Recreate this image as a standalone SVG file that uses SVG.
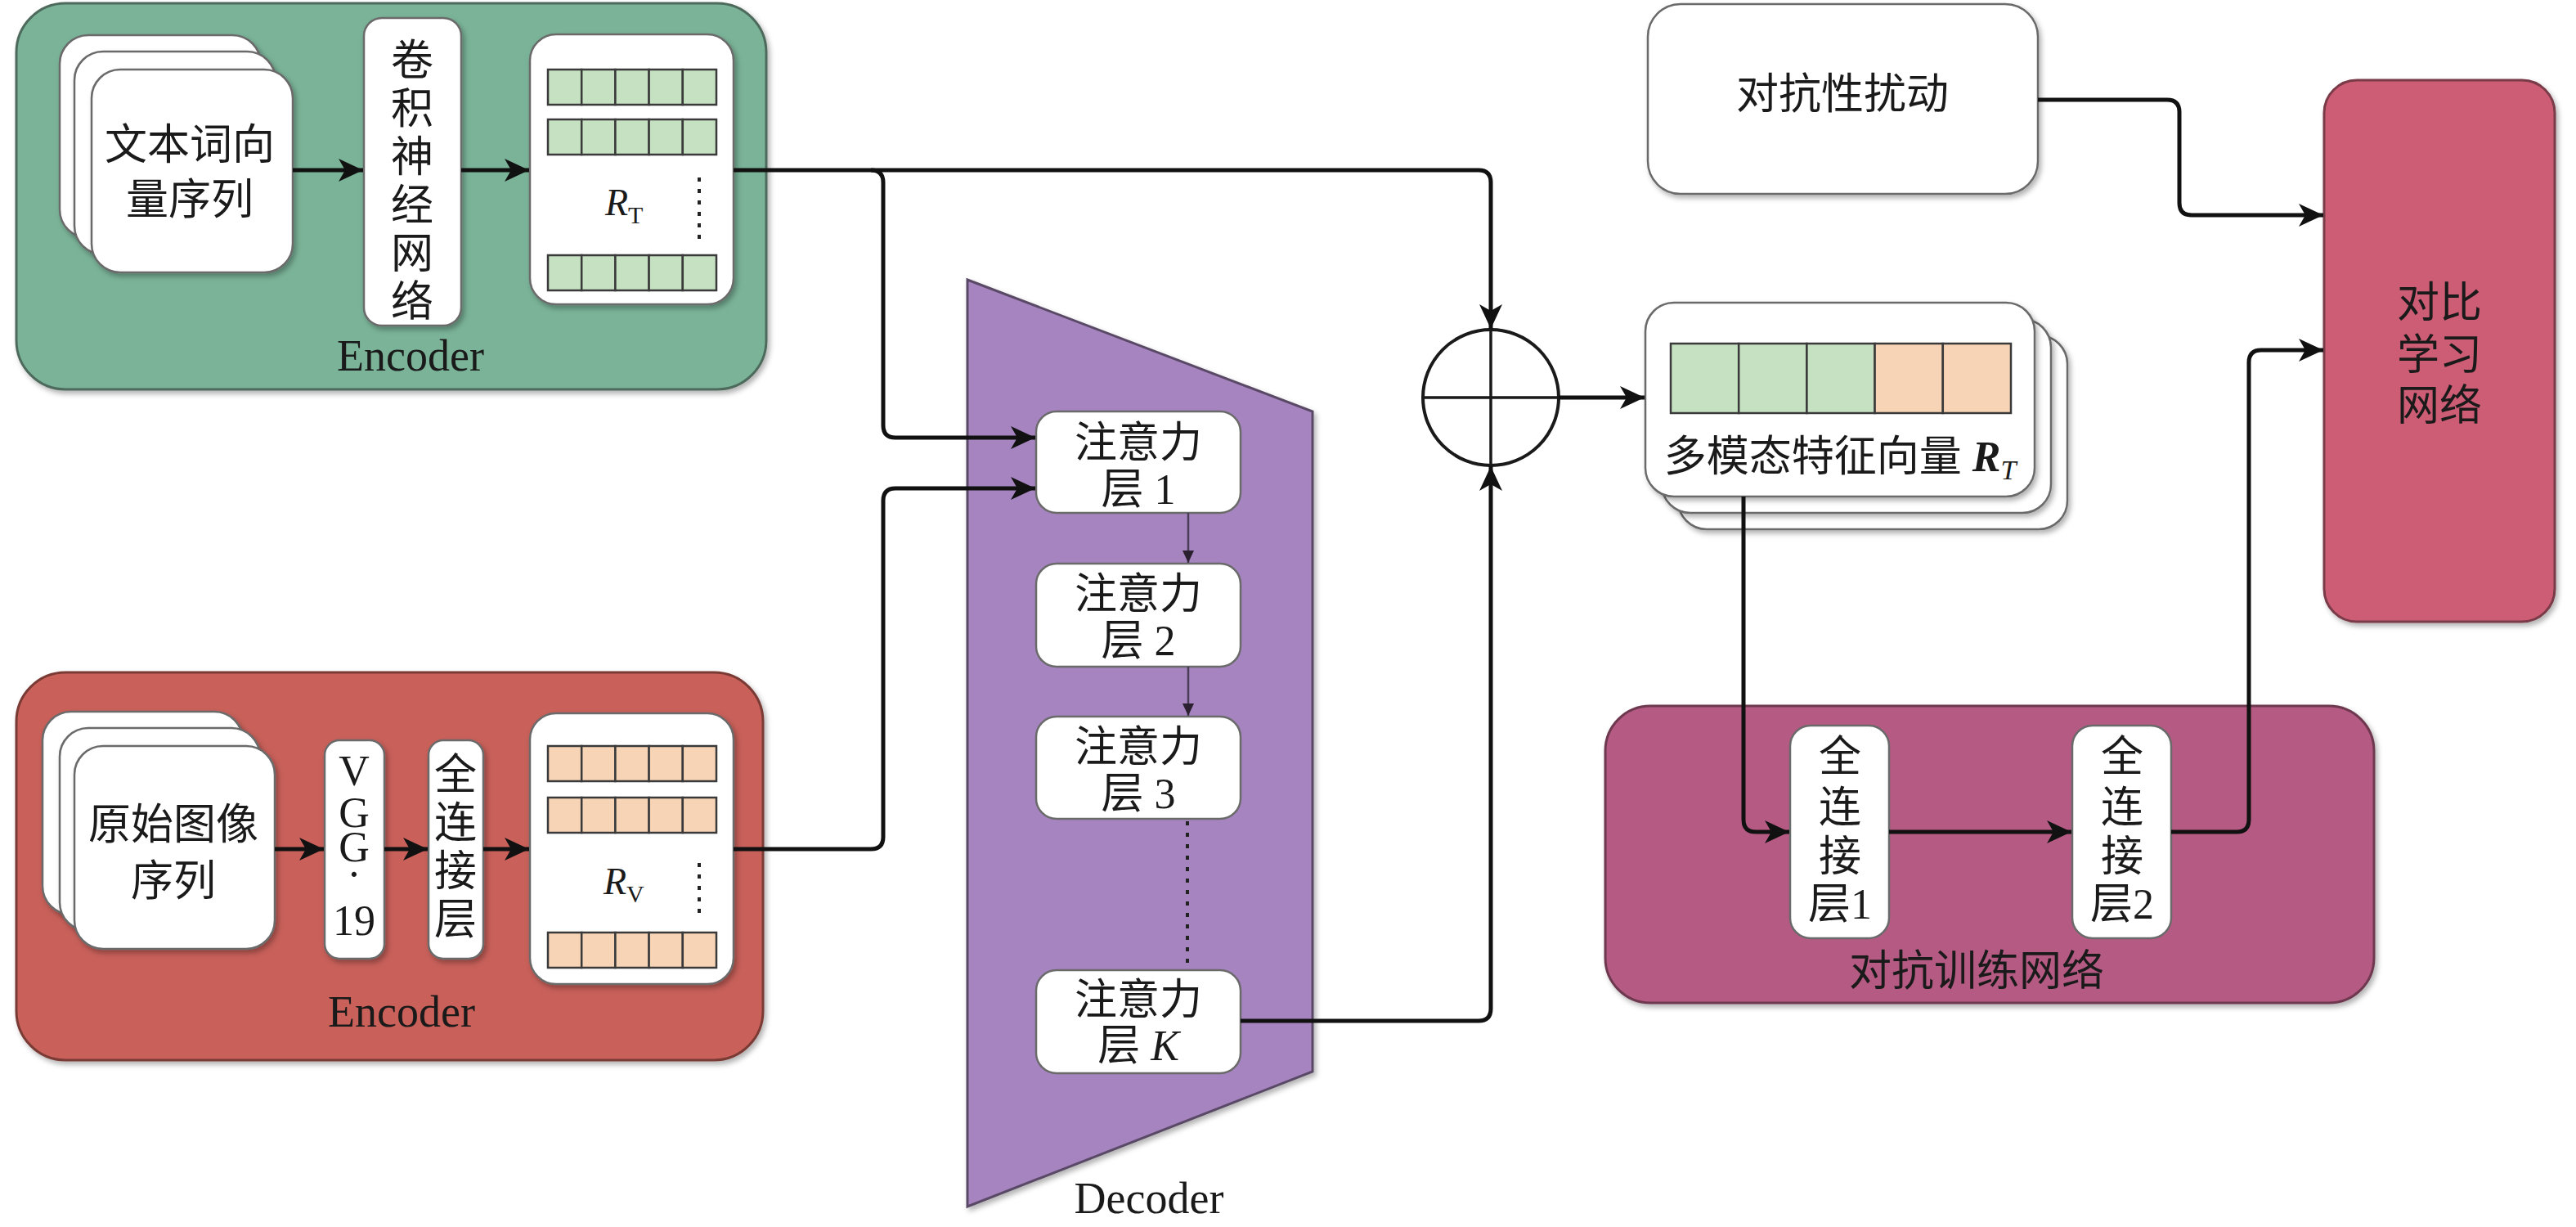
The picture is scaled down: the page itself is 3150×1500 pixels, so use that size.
<svg xmlns="http://www.w3.org/2000/svg" width="3150" height="1500" viewBox="0 0 3150 1500">
<defs>
<filter id="sh" x="-10%" y="-10%" width="125%" height="125%">
<feDropShadow dx="3" dy="4" stdDeviation="3" flood-color="#000" flood-opacity="0.3"/>
</filter>
<marker id="ah" markerUnits="userSpaceOnUse" markerWidth="32" markerHeight="28" refX="30" refY="14" orient="auto">
<path d="M0,0 L30,14 L0,28 L8,14 Z" fill="#111"/>
</marker>
<marker id="ahs" markerUnits="userSpaceOnUse" markerWidth="16" markerHeight="14" refX="15" refY="7" orient="auto">
<path d="M0,0 L15,7 L0,14 Z" fill="#2a2030"/>
</marker>
<style>
.t{font-family:"Liberation Serif","Noto Sans CJK SC",serif;font-size:52px;fill:#1a1a1a;text-anchor:middle}
.lat{font-family:"Liberation Serif",serif;fill:#1a1a1a}
.card{fill:#fff;stroke:#6a6a6a;stroke-width:2.5}
.wbox{fill:#fff;stroke:#6a6a6a;stroke-width:2.5}
.cg{fill:#c6e1c2;stroke:#3a3a3a;stroke-width:2.5}
.co{fill:#f8d4b6;stroke:#3a3a3a;stroke-width:2.5}
.ln{fill:none;stroke:#111;stroke-width:5;stroke-linejoin:round}
.thin{fill:none;stroke:#4a3d58;stroke-width:2.5}
.dots{fill:none;stroke:#222;stroke-width:4;stroke-dasharray:5 9}
</style>
</defs>

<g id="encoder-text">
<rect x="20" y="4" width="917" height="472" rx="60" fill="#7ab398" stroke="#4d6b5c" stroke-width="3" filter="url(#sh)"/>
<g id="text-seq">
<rect class="card" x="73" y="43" width="246" height="248" rx="35" filter="url(#sh)"/>
<rect class="card" x="91" y="63" width="246" height="248" rx="35" filter="url(#sh)"/>
<rect class="card" x="112" y="85" width="246" height="248" rx="35" filter="url(#sh)"/>
<text class="t" x="232" y="195">文本词向</text>
<text class="t" x="232" y="262">量序列</text>
</g>
<g id="cnn">
<rect class="wbox" x="445" y="22" width="119" height="376" rx="22" filter="url(#sh)"/>
<text class="t" x="504" y="92">卷</text>
<text class="t" x="504" y="151">积</text>
<text class="t" x="504" y="210">神</text>
<text class="t" x="504" y="269">经</text>
<text class="t" x="504" y="328">网</text>
<text class="t" x="504" y="387">络</text>
</g>
<g id="rt">
<rect class="wbox" x="648" y="42" width="249" height="330" rx="32" filter="url(#sh)"/>
<rect class="cg" x="670" y="85" width="41.2" height="43"/><rect class="cg" x="711.2" y="85" width="41.2" height="43"/><rect class="cg" x="752.4" y="85" width="41.2" height="43"/><rect class="cg" x="793.6" y="85" width="41.2" height="43"/><rect class="cg" x="834.8" y="85" width="41.2" height="43"/>
<rect class="cg" x="670" y="146" width="41.2" height="43"/><rect class="cg" x="711.2" y="146" width="41.2" height="43"/><rect class="cg" x="752.4" y="146" width="41.2" height="43"/><rect class="cg" x="793.6" y="146" width="41.2" height="43"/><rect class="cg" x="834.8" y="146" width="41.2" height="43"/>
<rect class="cg" x="670" y="312" width="41.2" height="43"/><rect class="cg" x="711.2" y="312" width="41.2" height="43"/><rect class="cg" x="752.4" y="312" width="41.2" height="43"/><rect class="cg" x="793.6" y="312" width="41.2" height="43"/><rect class="cg" x="834.8" y="312" width="41.2" height="43"/>
<text class="lat" x="740" y="263" font-size="46"><tspan font-style="italic">R</tspan><tspan font-size="30" dy="10">T</tspan></text>
<path class="dots" d="M855,217 V294"/>
</g>
<text class="lat" x="502" y="453" font-size="54" text-anchor="middle">Encoder</text>
</g>

<g id="encoder-image">
<rect x="20" y="822" width="913" height="474" rx="60" fill="#c9615a" stroke="#7a3a36" stroke-width="3" filter="url(#sh)"/>
<g id="img-seq">
<rect class="card" x="52" y="870" width="245" height="248" rx="35" filter="url(#sh)"/>
<rect class="card" x="73" y="890" width="245" height="248" rx="35" filter="url(#sh)"/>
<rect class="card" x="91" y="912" width="245" height="248" rx="35" filter="url(#sh)"/>
<text class="t" x="212" y="1026">原始图像</text>
<text class="t" x="212" y="1095">序列</text>
</g>
<g id="vgg">
<rect class="wbox" x="397" y="905" width="73" height="267" rx="18" filter="url(#sh)"/>
<text class="lat" font-size="52" text-anchor="middle"><tspan x="433" y="960">V</tspan><tspan x="433" y="1011">G</tspan><tspan x="433" y="1053">G</tspan><tspan x="433" y="1086">·</tspan><tspan x="433" y="1143">19</tspan></text>
</g>
<g id="fc-img">
<rect class="wbox" x="524" y="905" width="67" height="267" rx="18" filter="url(#sh)"/>
<text class="t" x="557" y="965">全</text>
<text class="t" x="557" y="1024">连</text>
<text class="t" x="557" y="1083">接</text>
<text class="t" x="557" y="1142">层</text>
</g>
<g id="rv">
<rect class="wbox" x="648" y="872" width="249" height="331" rx="32" filter="url(#sh)"/>
<rect class="co" x="670" y="912" width="41.2" height="43"/><rect class="co" x="711.2" y="912" width="41.2" height="43"/><rect class="co" x="752.4" y="912" width="41.2" height="43"/><rect class="co" x="793.6" y="912" width="41.2" height="43"/><rect class="co" x="834.8" y="912" width="41.2" height="43"/>
<rect class="co" x="670" y="975" width="41.2" height="43"/><rect class="co" x="711.2" y="975" width="41.2" height="43"/><rect class="co" x="752.4" y="975" width="41.2" height="43"/><rect class="co" x="793.6" y="975" width="41.2" height="43"/><rect class="co" x="834.8" y="975" width="41.2" height="43"/>
<rect class="co" x="670" y="1140" width="41.2" height="43"/><rect class="co" x="711.2" y="1140" width="41.2" height="43"/><rect class="co" x="752.4" y="1140" width="41.2" height="43"/><rect class="co" x="793.6" y="1140" width="41.2" height="43"/><rect class="co" x="834.8" y="1140" width="41.2" height="43"/>
<text class="lat" x="738" y="1093" font-size="46"><tspan font-style="italic">R</tspan><tspan font-size="30" dy="10">V</tspan></text>
<path class="dots" d="M855,1055 V1120"/>
</g>
<text class="lat" x="491" y="1255" font-size="54" text-anchor="middle">Encoder</text>
</g>

<g id="decoder">
<polygon points="1183,342 1605,503 1605,1310 1183,1475" fill="#a684bf" stroke="#5a4a66" stroke-width="3" filter="url(#sh)"/>
<g id="att1">
<rect class="wbox" x="1267" y="503" width="250" height="124" rx="25"/>
<text class="t" x="1392" y="559">注意力</text>
<text class="t" x="1392" y="616">层 1</text>
</g>
<g id="att2">
<rect class="wbox" x="1267" y="689" width="250" height="126" rx="25"/>
<text class="t" x="1392" y="744">注意力</text>
<text class="t" x="1392" y="801">层 2</text>
</g>
<g id="att3">
<rect class="wbox" x="1267" y="876" width="250" height="125" rx="25"/>
<text class="t" x="1392" y="931">注意力</text>
<text class="t" x="1392" y="988">层 3</text>
</g>
<g id="attk">
<rect class="wbox" x="1267" y="1186" width="250" height="126" rx="25"/>
<text class="t" x="1392" y="1240">注意力</text>
<text class="t" x="1392" y="1296">层 <tspan font-style="italic">K</tspan></text>
</g>
<text class="lat" x="1405" y="1483" font-size="54" text-anchor="middle">Decoder</text>
</g>

<g id="sum">
<circle cx="1823" cy="486" r="83" fill="#fff" stroke="#1a1a1a" stroke-width="4"/>
<path d="M1740,486 H1906 M1823,403 V569" stroke="#1a1a1a" stroke-width="3.5" fill="none"/>
</g>

<g id="multimodal">
<rect class="card" x="2052" y="410" width="476" height="237" rx="35" filter="url(#sh)"/>
<rect class="card" x="2032" y="390" width="476" height="237" rx="35" filter="url(#sh)"/>
<rect class="card" x="2012" y="370" width="476" height="237" rx="35" filter="url(#sh)"/>
<rect class="cg" x="2043" y="420" width="83.2" height="85"/><rect class="cg" x="2126.2" y="420" width="83.2" height="85"/><rect class="cg" x="2209.4" y="420" width="83.2" height="85"/>
<rect class="co" x="2292.6" y="420" width="83.2" height="85"/><rect class="co" x="2375.8" y="420" width="83.2" height="85"/>
<text class="t" x="2250" y="576" font-size="54">多模态特征向量 <tspan font-weight="bold" font-style="italic">R</tspan><tspan font-style="italic" font-size="34" dy="10">T</tspan></text>
</g>

<g id="perturb">
<rect class="wbox" x="2015" y="5" width="477" height="232" rx="40" filter="url(#sh)"/>
<text class="t" x="2253" y="133" font-size="54">对抗性扰动</text>
</g>

<g id="contrast">
<rect x="2842" y="98" width="282" height="662" rx="40" fill="#cd5c74" stroke="#7a3a48" stroke-width="3" filter="url(#sh)"/>
<text class="t" x="2983" y="388">对比</text>
<text class="t" x="2983" y="452">学习</text>
<text class="t" x="2983" y="514">网络</text>
</g>

<g id="adversarial">
<rect x="1963" y="863" width="940" height="363" rx="55" fill="#b45a83" stroke="#6e3850" stroke-width="3" filter="url(#sh)"/>
<g id="fc1">
<rect class="wbox" x="2189" y="887" width="121" height="260" rx="25"/>
<text class="t" x="2250" y="943">全</text>
<text class="t" x="2250" y="1005">连</text>
<text class="t" x="2250" y="1065">接</text>
<text class="t" x="2250" y="1123">层1</text>
</g>
<g id="fc2">
<rect class="wbox" x="2534" y="887" width="121" height="260" rx="25"/>
<text class="t" x="2595" y="943">全</text>
<text class="t" x="2595" y="1005">连</text>
<text class="t" x="2595" y="1065">接</text>
<text class="t" x="2595" y="1123">层2</text>
</g>
<text class="t" x="2417" y="1205" font-size="54">对抗训练网络</text>
</g>

<g id="connectors">
<path class="ln" d="M358,208 H444" marker-end="url(#ah)"/>
<path class="ln" d="M564,208 H647" marker-end="url(#ah)"/>
<path class="ln" d="M336,1038 H396" marker-end="url(#ah)"/>
<path class="ln" d="M470,1038 H523" marker-end="url(#ah)"/>
<path class="ln" d="M591,1038 H647" marker-end="url(#ah)"/>
<path class="ln" d="M897,208 H1808 Q1823,208 1823,223 V402" marker-end="url(#ah)"/>
<path class="ln" d="M1065,208 Q1080,208 1080,223 V520 Q1080,535 1095,535 H1266" marker-end="url(#ah)"/>
<path class="ln" d="M897,1038 H1065 Q1080,1038 1080,1023 V612 Q1080,597 1095,597 H1266" marker-end="url(#ah)"/>
<path class="thin" d="M1453,627 V688" marker-end="url(#ahs)"/>
<path class="thin" d="M1453,815 V875" marker-end="url(#ahs)"/>
<path class="dots" d="M1452,1004 V1186"/>
<path class="ln" d="M1517,1248 H1808 Q1823,1248 1823,1233 V570" marker-end="url(#ah)"/>
<path class="ln" d="M1906,486 H2011" marker-end="url(#ah)"/>
<path class="ln" d="M2132,607 V1002 Q2132,1017 2147,1017 H2188" marker-end="url(#ah)"/>
<path class="ln" d="M2310,1017 H2533" marker-end="url(#ah)"/>
<path class="ln" d="M2655,1017 H2735 Q2750,1017 2750,1002 V443 Q2750,428 2765,428 H2841" marker-end="url(#ah)"/>
<path class="ln" d="M2492,122 H2650 Q2665,122 2665,137 V248 Q2665,263 2680,263 H2841" marker-end="url(#ah)"/>
</g>
</svg>
